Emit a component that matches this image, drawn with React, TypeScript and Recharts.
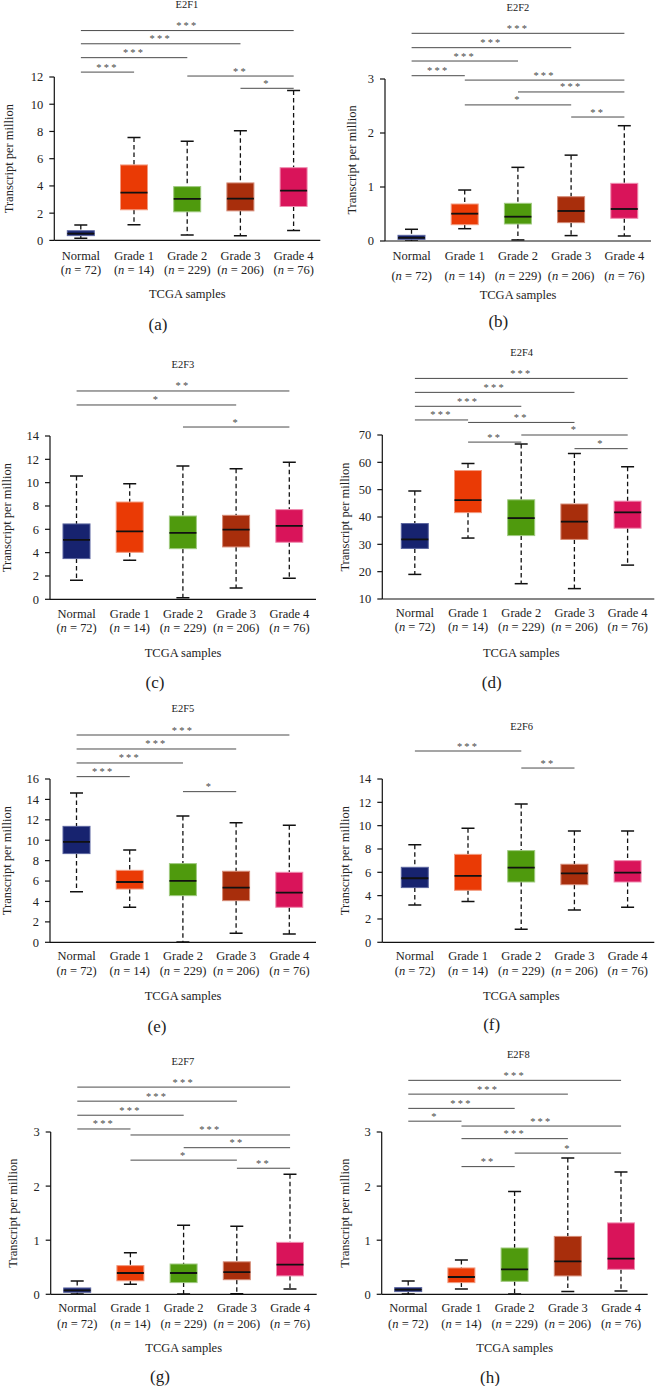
import React from 'react'
import { ComposedChart, Bar, XAxis, YAxis, ReferenceLine } from 'recharts'

// ── Data ───────────────────────────────────────────────────────────────────

const GROUPS = ['Normal', 'Grade 1', 'Grade 2', 'Grade 3', 'Grade 4']
const GROUP_N = [72, 14, 229, 206, 76]
const BOX_FILL = ['#17236f', '#ea3a05', '#4f9a0d', '#a82e0c', '#d9145a']
const BOX_EDGE = ['#5b659f', '#f29a7f', '#a0ca80', '#d58a75', '#ef8db0']

// [lower whisker, Q1, median, Q3, upper whisker] per group
const E2F1_STATS = [
  [0.15, 0.35, 0.5, 0.71, 1.13],
  [1.15, 2.25, 3.51, 5.54, 7.56],
  [0.39, 2.1, 3.05, 3.95, 7.29],
  [0.34, 2.17, 3.07, 4.22, 8.05],
  [0.73, 2.49, 3.66, 5.34, 11.0],
]
const E2F2_STATS = [
  [0.0, 0.03, 0.06, 0.105, 0.217],
  [0.228, 0.302, 0.506, 0.685, 0.944],
  [0.02, 0.315, 0.45, 0.698, 1.364],
  [0.1, 0.34, 0.556, 0.82, 1.59],
  [0.093, 0.42, 0.593, 1.068, 2.135],
]
const E2F3_STATS = [
  [1.63, 3.49, 5.09, 6.46, 10.57],
  [3.34, 4.03, 5.83, 8.34, 9.91],
  [0.14, 4.34, 5.69, 7.14, 11.43],
  [0.97, 4.49, 5.97, 7.2, 11.2],
  [1.8, 4.89, 6.29, 7.69, 11.74],
]
const E2F4_STATS = [
  [19.0, 28.5, 31.8, 37.6, 49.5],
  [32.3, 41.6, 46.2, 57.0, 59.6],
  [15.6, 33.2, 39.6, 46.3, 66.7],
  [13.8, 31.8, 38.3, 44.75, 63.2],
  [22.4, 35.9, 41.7, 45.8, 58.4],
]
const E2F5_STATS = [
  [4.96, 8.69, 9.83, 11.36, 14.63],
  [3.43, 5.22, 5.91, 7.05, 9.04],
  [0.03, 4.57, 6.01, 7.71, 12.38],
  [0.88, 4.08, 5.36, 6.96, 11.72],
  [0.82, 3.43, 4.87, 6.86, 11.46],
]
const E2F6_STATS = [
  [3.2, 4.69, 5.49, 6.43, 8.37],
  [3.49, 4.46, 5.69, 7.54, 9.77],
  [1.11, 5.17, 6.4, 7.86, 11.86],
  [2.77, 4.94, 5.91, 6.69, 9.54],
  [3.0, 5.17, 5.97, 7.0, 9.54],
]
const E2F7_STATS = [
  [0.006, 0.037, 0.074, 0.117, 0.246],
  [0.185, 0.25, 0.394, 0.53, 0.77],
  [0.006, 0.216, 0.394, 0.56, 1.275],
  [0.012, 0.27, 0.41, 0.6, 1.257],
  [0.1, 0.34, 0.55, 0.96, 2.22],
]
const E2F8_STATS = [
  [0.006, 0.05, 0.086, 0.123, 0.246],
  [0.1, 0.216, 0.32, 0.487, 0.634],
  [0.006, 0.24, 0.462, 0.856, 1.9],
  [0.05, 0.34, 0.61, 1.07, 2.52],
  [0.06, 0.462, 0.66, 1.32, 2.26],
]

// significance brackets: [from, to, bracket level (data units), stars]
type Sig = [string, string, number, string]

const E2F1_SIG: Sig[] = [
  ['Normal', 'Grade 4', 15.41, '***'],
  ['Normal', 'Grade 3', 14.44, '***'],
  ['Normal', 'Grade 2', 13.42, '***'],
  ['Normal', 'Grade 1', 12.36, '***'],
  ['Grade 2', 'Grade 4', 12.07, '**'],
  ['Grade 3', 'Grade 4', 11.17, '*'],
]
const E2F2_SIG: Sig[] = [
  ['Normal', 'Grade 4', 3.846, '***'],
  ['Normal', 'Grade 3', 3.58, '***'],
  ['Normal', 'Grade 2', 3.333, '***'],
  ['Normal', 'Grade 1', 3.061, '***'],
  ['Grade 1', 'Grade 4', 2.98, '***'],
  ['Grade 2', 'Grade 4', 2.76, '***'],
  ['Grade 1', 'Grade 3', 2.52, '*'],
  ['Grade 3', 'Grade 4', 2.296, '**'],
]
const E2F3_SIG: Sig[] = [
  ['Normal', 'Grade 4', 17.86, '**'],
  ['Normal', 'Grade 3', 16.66, '*'],
  ['Grade 2', 'Grade 4', 14.77, '*'],
]
const E2F4_SIG: Sig[] = [
  ['Normal', 'Grade 4', 90.7, '***'],
  ['Normal', 'Grade 3', 85.6, '***'],
  ['Normal', 'Grade 2', 80.5, '***'],
  ['Normal', 'Grade 1', 75.5, '***'],
  ['Grade 1', 'Grade 3', 74.6, '**'],
  ['Grade 2', 'Grade 4', 70.0, '*'],
  ['Grade 1', 'Grade 2', 67.4, '**'],
  ['Grade 3', 'Grade 4', 65.0, '*'],
]
const E2F5_SIG: Sig[] = [
  ['Normal', 'Grade 4', 20.31, '***'],
  ['Normal', 'Grade 3', 18.94, '***'],
  ['Normal', 'Grade 2', 17.57, '***'],
  ['Normal', 'Grade 1', 16.23, '***'],
  ['Grade 2', 'Grade 3', 14.76, '*'],
]
const E2F6_SIG: Sig[] = [
  ['Normal', 'Grade 2', 16.4, '***'],
  ['Grade 2', 'Grade 3', 14.94, '**'],
]
const E2F7_SIG: Sig[] = [
  ['Normal', 'Grade 4', 3.83, '***'],
  ['Normal', 'Grade 3', 3.57, '***'],
  ['Normal', 'Grade 2', 3.31, '***'],
  ['Normal', 'Grade 1', 3.056, '***'],
  ['Grade 1', 'Grade 4', 2.945, '***'],
  ['Grade 2', 'Grade 4', 2.71, '**'],
  ['Grade 1', 'Grade 3', 2.48, '*'],
  ['Grade 3', 'Grade 4', 2.33, '**'],
]
const E2F8_SIG: Sig[] = [
  ['Normal', 'Grade 4', 3.955, '***'],
  ['Normal', 'Grade 3', 3.7, '***'],
  ['Normal', 'Grade 2', 3.437, '***'],
  ['Normal', 'Grade 1', 3.2, '*'],
  ['Grade 1', 'Grade 4', 3.11, '***'],
  ['Grade 1', 'Grade 3', 2.877, '***'],
  ['Grade 2', 'Grade 4', 2.61, '*'],
  ['Grade 1', 'Grade 2', 2.36, '**'],
]

const TICKS_0_12 = [0, 2, 4, 6, 8, 10, 12]
const TICKS_0_14 = [0, 2, 4, 6, 8, 10, 12, 14]
const TICKS_0_16 = [0, 2, 4, 6, 8, 10, 12, 14, 16]
const TICKS_10_70 = [10, 20, 30, 40, 50, 60, 70]
const TICKS_0_3 = [0, 1, 2, 3]

// ── Box shape ──────────────────────────────────────────────────────────────

const FONT = 'Liberation Serif, Times New Roman, serif'
const TOP = 75
const XAXIS_H = 70
const PLOT_W = 266

function BoxShape(props: any) {
  const { x, y, width, height, payload, index } = props
  const [lo, q1, med, q3, hi] = payload.stats as number[]
  const top = Math.min(y, y + height)
  const h = Math.abs(height)
  const span = hi - lo || 1
  const py = (v: number) => top + (h * (hi - v)) / span
  const cx = x + width / 2
  const cap = 6.5
  return (
    <g>
      <line x1={cx} x2={cx} y1={py(hi)} y2={py(q3)} stroke="#111" strokeWidth={1.3} strokeDasharray="4.5 3" />
      <line x1={cx} x2={cx} y1={py(q1)} y2={py(lo)} stroke="#111" strokeWidth={1.3} strokeDasharray="4.5 3" />
      <line x1={cx - cap} x2={cx + cap} y1={py(hi)} y2={py(hi)} stroke="#111" strokeWidth={1.5} />
      <line x1={cx - cap} x2={cx + cap} y1={py(lo)} y2={py(lo)} stroke="#111" strokeWidth={1.5} />
      <rect x={x} y={py(q3)} width={width} height={Math.max(py(q1) - py(q3), 1)}
        fill={BOX_FILL[index]} stroke={BOX_EDGE[index]} strokeWidth={1} />
      <line x1={x} x2={x + width} y1={py(med)} y2={py(med)} stroke="#111" strokeWidth={1.8} />
    </g>
  )
}

function GroupTick(props: any) {
  const { x, y, payload, d1, d2 } = props
  const i = GROUPS.indexOf(payload.value)
  const st = { fontFamily: FONT, fontSize: 12.5, fill: '#222' }
  return (
    <g>
      <text x={x} y={y + d1} textAnchor="middle" dominantBaseline="central" style={st}>{payload.value}</text>
      <text x={x} y={y + d2} textAnchor="middle" dominantBaseline="central" style={st}>
        (<tspan fontStyle="italic">n</tspan> = {GROUP_N[i]})
      </text>
    </g>
  )
}

// ── Panel ──────────────────────────────────────────────────────────────────

type PanelProps = {
  gene: string
  stats: number[][]
  sig: Sig[]
  ticks: number[]
  caption: string
  colX: number
  axisX: number
  plotTop: number
  plotBottom: number
  padLeft: number
  labelX: number
  d1: number
  d2: number
  titleX: number
  titleY: number
  capX: number
  capY: number
}

function Panel(p: PanelProps) {
  const yAxisW = p.axisX - p.colX
  const plotH = p.plotBottom - p.plotTop
  const width = yAxisW + PLOT_W + p.padLeft + 4
  const height = TOP + plotH + XAXIS_H
  const data = GROUPS.map((g, i) => ({ name: g, stats: p.stats[i], range: [p.stats[i][0], p.stats[i][4]] }))
  const midY = TOP + plotH / 2
  const lx = p.labelX - p.colX
  return (
    <>
      <div style={{
        position: 'absolute', left: p.titleX - 50, top: p.titleY - 7, width: 100, lineHeight: '14px',
        textAlign: 'center', fontFamily: FONT, fontSize: 10.5, color: '#222',
      }}>{p.gene}</div>
      <div style={{ position: 'absolute', left: p.colX, top: p.plotTop - TOP }}>
        <ComposedChart width={width} height={height} data={data}
          margin={{ top: TOP, right: 4, bottom: 0, left: 0 }}>
          <XAxis dataKey="name" height={XAXIS_H} tickLine={false} tickSize={0} tickMargin={0}
            axisLine={{ stroke: '#111', strokeWidth: 1.2 }} padding={{ left: p.padLeft, right: 0 }}
            interval={0}
            tick={(t: any) => <GroupTick {...t} d1={p.d1} d2={p.d2} />}
            label={{
              content: () => (
                <text x={yAxisW + p.padLeft + PLOT_W / 2} y={TOP + plotH + 54} textAnchor="middle"
                  dominantBaseline="central" style={{ fontFamily: FONT, fontSize: 12.5, fill: '#222' }}>
                  TCGA samples
                </text>
              ),
            }}
          />
          <YAxis width={yAxisW} domain={[p.ticks[0], p.ticks[p.ticks.length - 1]]} ticks={p.ticks}
            allowDataOverflow interval={0} tickSize={5} tickMargin={6}
            tick={{ fontFamily: FONT, fontSize: 12.5, fill: '#222' }}
            tickLine={{ stroke: '#111', strokeWidth: 1.2 }} axisLine={{ stroke: '#111', strokeWidth: 1.2 }}
            label={{
              content: () => (
                <text x={lx} y={midY} transform={`rotate(-90 ${lx} ${midY})`} textAnchor="middle"
                  dominantBaseline="central" style={{ fontFamily: FONT, fontSize: 12.5, fill: '#222' }}>
                  Transcript per million
                </text>
              ),
            }}
          />
          <Bar dataKey="range" barSize={27} isAnimationActive={false} shape={BoxShape} />
          {p.sig.map(([a, b, lvl, stars], i) => (
            <ReferenceLine key={i} ifOverflow="visible" stroke="#4a4a4a" strokeWidth={1}
              segment={[{ x: a, y: lvl }, { x: b, y: lvl }]}
              label={{ value: stars, position: 'top', offset: 1.5, fill: '#4a4a4a', fontSize: 10.5, fontFamily: FONT, letterSpacing: 2.2 }}
            />
          ))}
        </ComposedChart>
      </div>
      <div style={{
        position: 'absolute', left: p.capX - 30, top: p.capY - 10, width: 60, lineHeight: '20px',
        textAlign: 'center', fontFamily: FONT, fontSize: 17, color: '#222',
      }}>{p.caption}</div>
    </>
  )
}

export default function App() {
  return (
    <div style={{ position: 'absolute', left: 0, top: 0, width: 655, height: 1386, background: '#fff', overflow: 'hidden' }}>
      <Panel gene="E2F1" stats={E2F1_STATS} sig={E2F1_SIG} ticks={TICKS_0_12} caption="(a)"
        colX={0} axisX={54.3} plotTop={77.3} plotBottom={240.7} padLeft={0} labelX={9.3} d1={15.3} d2={29.3}
        titleX={187} titleY={5} capX={158} capY={325} />
      <Panel gene="E2F2" stats={E2F2_STATS} sig={E2F2_SIG} ticks={TICKS_0_3} caption="(b)"
        colX={325} axisX={385} plotTop={79} plotBottom={241} padLeft={0} labelX={351.7} d1={15} d2={35}
        titleX={518} titleY={8.3} capX={498.3} capY={321.7} />
      <Panel gene="E2F3" stats={E2F3_STATS} sig={E2F3_SIG} ticks={TICKS_0_14} caption="(c)"
        colX={0} axisX={50} plotTop={435.7} plotBottom={599} padLeft={0} labelX={7} d1={14.3} d2={28.3}
        titleX={183} titleY={365} capX={155} capY={683} />
      <Panel gene="E2F4" stats={E2F4_STATS} sig={E2F4_SIG} ticks={TICKS_10_70} caption="(d)"
        colX={325} axisX={382.3} plotTop={435} plotBottom={599} padLeft={6} labelX={345} d1={14.3} d2={28.3}
        titleX={521.7} titleY={353.3} capX={491.7} capY={683} />
      <Panel gene="E2F5" stats={E2F5_STATS} sig={E2F5_SIG} ticks={TICKS_0_16} caption="(e)"
        colX={0} axisX={50} plotTop={779} plotBottom={942.3} padLeft={0} labelX={7} d1={13.7} d2={28.4}
        titleX={183} titleY={709.3} capX={157} capY={1026.7} />
      <Panel gene="E2F6" stats={E2F6_STATS} sig={E2F6_SIG} ticks={TICKS_0_14} caption="(f)"
        colX={325} axisX={382.3} plotTop={779} plotBottom={942.3} padLeft={6} labelX={345} d1={13.7} d2={28.4}
        titleX={521.7} titleY={726.7} capX={491.7} capY={1025} />
      <Panel gene="E2F7" stats={E2F7_STATS} sig={E2F7_SIG} ticks={TICKS_0_3} caption="(g)"
        colX={0} axisX={50.7} plotTop={1131.7} plotBottom={1294} padLeft={0} labelX={13.3} d1={13.7} d2={29.3}
        titleX={183} titleY={1061.7} capX={160} capY={1376.7} />
      <Panel gene="E2F8" stats={E2F8_STATS} sig={E2F8_SIG} ticks={TICKS_0_3} caption="(h)"
        colX={325} axisX={381.7} plotTop={1131.7} plotBottom={1294} padLeft={0} labelX={345} d1={13.7} d2={29.3}
        titleX={518.3} titleY={1055} capX={490} capY={1378.3} />
    </div>
  )
}
